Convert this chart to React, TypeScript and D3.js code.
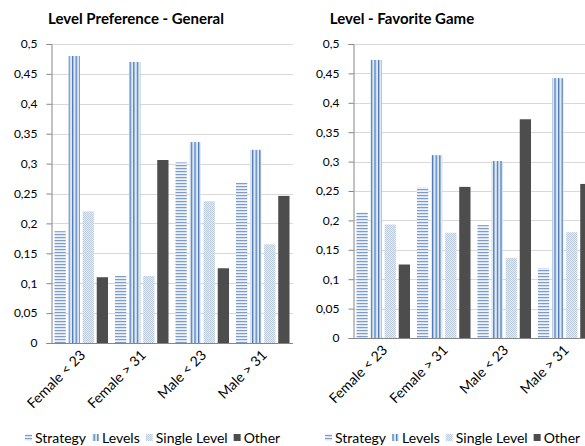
import React, { useEffect, useRef } from "react";
import * as d3 from "d3";

// Categories and series
const categories = ["Female < 23", "Female > 31", "Male < 23", "Male > 31"];
const seriesNames = ["Strategy", "Levels", "Single Level", "Other"];
const yTicks = [0, 0.05, 0.1, 0.15, 0.2, 0.25, 0.3, 0.35, 0.4, 0.45, 0.5];

// Level Preference - General
const generalStrategy = [0.187, 0.112, 0.302, 0.268];
const generalLevels = [0.48, 0.47, 0.336, 0.323];
const generalSingle = [0.22, 0.112, 0.237, 0.165];
const generalOther = [0.11, 0.306, 0.125, 0.246];

// Level - Favorite Game
const favStrategy = [0.214, 0.256, 0.192, 0.119];
const favLevels = [0.473, 0.311, 0.301, 0.442];
const favSingle = [0.193, 0.179, 0.136, 0.18];
const favOther = [0.125, 0.257, 0.372, 0.262];

const panels = [
  {
    title: "Level Preference - General",
    titleX: 136,
    series: [generalStrategy, generalLevels, generalSingle, generalOther],
    x0: 51,
    x1: 293,
    yTop: 44,
    yBottom: 343,
    legendX: 25,
  },
  {
    title: "Level - Favorite Game",
    titleX: 402,
    series: [favStrategy, favLevels, favSingle, favOther],
    x0: 353,
    x1: 595,
    yTop: 44,
    yBottom: 338,
    legendX: 325,
  },
];

const FONT = "Lato, 'Open Sans', sans-serif";
const fills = ["url(#pStrategy)", "url(#pLevels)", "url(#pSingle)", "#4d4d4d"];
const fmt = d3
  .formatLocale({ decimal: ",", thousands: ".", grouping: [3], currency: ["", ""] })
  .format(".2~f");

export default function App() {
  const ref = useRef<SVGSVGElement>(null);

  useEffect(() => {
    const svg = d3.select(ref.current);
    svg.selectAll("*").remove();

    const defs = svg.append("defs");
    // horizontal stripes
    const ps = defs
      .append("pattern")
      .attr("id", "pStrategy")
      .attr("patternUnits", "userSpaceOnUse")
      .attr("width", 4)
      .attr("height", 3);
    ps.append("rect").attr("width", 4).attr("height", 3).attr("fill", "#eef2f8");
    ps.append("rect").attr("y", 0).attr("width", 4).attr("height", 1.2).attr("fill", "#7d9cc6");
    // vertical stripes
    const pl = defs
      .append("pattern")
      .attr("id", "pLevels")
      .attr("patternUnits", "userSpaceOnUse")
      .attr("width", 3.6)
      .attr("height", 4);
    pl.append("rect").attr("width", 3.6).attr("height", 4).attr("fill", "#dfe8f3");
    pl.append("rect").attr("x", 0).attr("width", 1.3).attr("height", 4).attr("fill", "#4a7aba");
    // fine checker
    const pg = defs
      .append("pattern")
      .attr("id", "pSingle")
      .attr("patternUnits", "userSpaceOnUse")
      .attr("width", 2)
      .attr("height", 2);
    pg.append("rect").attr("width", 2).attr("height", 2).attr("fill", "#e6ecf2");
    pg.append("rect").attr("width", 1).attr("height", 1).attr("fill", "#bccbdb");
    pg.append("rect").attr("x", 1).attr("y", 1).attr("width", 1).attr("height", 1).attr("fill", "#bccbdb");

    panels.forEach((p) => {
      const g = svg.append("g");
      const y = d3.scaleLinear().domain([0, 0.5]).range([p.yBottom, p.yTop]);
      const x = d3.scaleBand<string>().domain(categories).range([p.x0, p.x1]);
      const inner = d3
        .scaleBand<string>()
        .domain(seriesNames)
        .range([3.5, x.bandwidth() - 3.5])
        .paddingInner(0.2);

      // gridlines
      g.selectAll("line.grid")
        .data(yTicks.slice(1))
        .join("line")
        .attr("x1", p.x0)
        .attr("x2", p.x1)
        .attr("y1", (d) => Math.round(y(d)) + 0.5)
        .attr("y2", (d) => Math.round(y(d)) + 0.5)
        .attr("stroke", "#d9d9d9")
        .attr("stroke-width", 1);

      // bars
      p.series.forEach((vals, si) => {
        g.selectAll(null)
          .data(vals)
          .join("rect")
          .attr("x", (_, i) => x(categories[i])! + inner(seriesNames[si])!)
          .attr("y", (d) => y(d))
          .attr("width", inner.bandwidth())
          .attr("height", (d) => p.yBottom - y(d))
          .attr("fill", fills[si]);
      });

      // y axis
      const axis = g
        .append("g")
        .attr("transform", `translate(${p.x0 + 0.5},0)`)
        .call(
          d3
            .axisLeft(y)
            .tickValues(yTicks)
            .tickSize(5)
            .tickPadding(9)
            .tickFormat((d) => fmt(d as number))
        );
      axis.select(".domain").attr("stroke", "#868686");
      axis.selectAll(".tick line").attr("stroke", "#868686");
      axis
        .selectAll(".tick text")
        .attr("font-family", FONT)
        .attr("font-size", 12)
        .attr("fill", "#000");

      // x baseline
      g.append("line")
        .attr("x1", p.x0)
        .attr("x2", p.x1)
        .attr("y1", p.yBottom + 0.5)
        .attr("y2", p.yBottom + 0.5)
        .attr("stroke", "#868686");

      // category labels
      g.selectAll("text.cat")
        .data(categories)
        .join("text")
        .attr(
          "transform",
          (d) => `translate(${x(d)! + x.bandwidth() / 2 + 5},${p.yBottom + 13}) rotate(-45)`
        )
        .attr("text-anchor", "end")
        .attr("font-family", FONT)
        .attr("font-size", 14)
        .attr("fill", "#000")
        .text((d) => d);

      // title
      g.append("text")
        .attr("x", p.titleX)
        .attr("y", 24)
        .attr("text-anchor", "middle")
        .attr("font-family", FONT)
        .attr("font-weight", "bold")
        .attr("font-size", 15)
        .attr("fill", "#000")
        .text(p.title);

      // legend
      let lx = p.legendX;
      const ly = 438;
      seriesNames.forEach((name, si) => {
        g.append("rect")
          .attr("x", lx)
          .attr("y", ly - 4)
          .attr("width", 7)
          .attr("height", 7)
          .attr("fill", fills[si]);
        const t = g
          .append("text")
          .attr("x", lx + 10)
          .attr("y", ly + 5)
          .attr("font-family", FONT)
          .attr("font-size", 14)
          .attr("fill", "#000")
          .text(name);
        const w = (t.node() as SVGTextElement).getComputedTextLength();
        lx += 10 + w + 6;
      });
    });
  }, []);

  return (
    <svg
      ref={ref}
      width={585}
      height={446}
      style={{ position: "absolute", left: 0, top: 0, background: "#fff" }}
    />
  );
}
